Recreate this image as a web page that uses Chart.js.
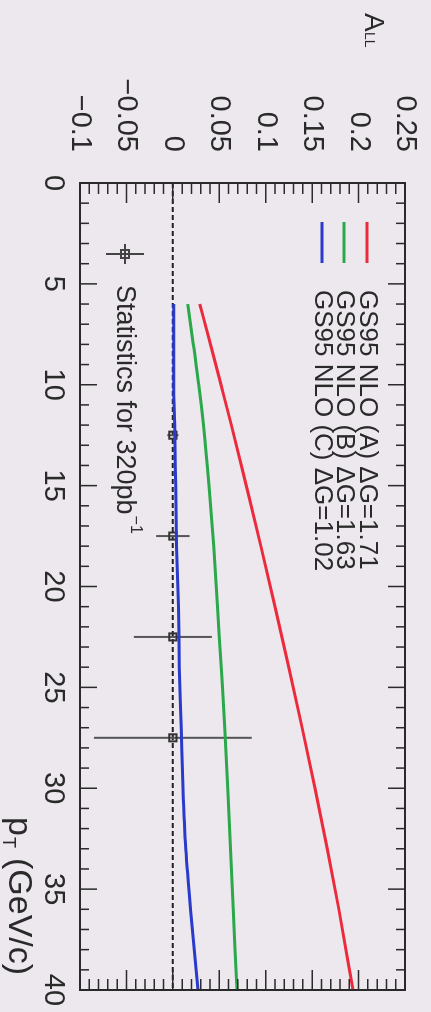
<!DOCTYPE html>
<html>
<head>
<meta charset="utf-8">
<script src="https://cdn.jsdelivr.net/npm/chart.js@4.4.1/dist/chart.umd.min.js"></script>
<style>
html, body { margin: 0; padding: 0; background: #ece8ee; overflow: hidden; }
/* chart is drawn landscape, then turned a quarter clockwise like the scan */
#wrap { position: absolute; left: 0; top: 0; width: 1012px; height: 431px;
        transform-origin: 0 0; transform: translateX(431px) rotate(90deg); }
</style>
</head>
<body>
<div id="wrap"><canvas id="c" width="1012" height="431"></canvas></div>
<script>
// GS95 NLO predictions, A_LL vs pT
const PT_CURVE = [6, 8, 10, 12, 15, 18, 21, 24, 27, 30, 33, 36, 40];
const ALL_A = [0.029, 0.0405, 0.0518, 0.063, 0.079, 0.0948, 0.110, 0.1248, 0.1392, 0.153, 0.1662, 0.1788, 0.194];
const ALL_B = [0.016, 0.022, 0.028, 0.033, 0.039, 0.044, 0.048, 0.052, 0.056, 0.059, 0.062, 0.065, 0.069];
const ALL_C = [0.001, 0.001, 0.001, 0.002, 0.003, 0.004, 0.006, 0.007, 0.009, 0.011, 0.014, 0.019, 0.027];

// projected statistics for 320 pb^-1
const PT_STAT = [12.5, 17.5, 22.5, 27.5];
const ALL_STAT = [0, 0, 0, 0];
const ERR_STAT = [0.006, 0.018, 0.042, 0.085];

const LABELS = ['GS95 NLO (A) \u0394G=1.71', 'GS95 NLO (B) \u0394G=1.63', 'GS95 NLO (C) \u0394G=1.02'];
const COLORS = ['#ec2a3c', '#2aa84a', '#2a3acb'];

const FONT = '"Liberation Sans", Arial, sans-serif';
const INK = '#2a2a2a';

const toXY = (xs, ys) => xs.map((x, i) => ({ x, y: ys[i] }));

function fmtTick(v) {
    const r = Math.round(v * 100) / 100;
    if (r === 0) return '0';
    return r < 0 ? '\u2212' + String(-r) : String(r);
}

const frame = {
    id: 'frame',
    beforeDraw(chart) {
        const ctx = chart.ctx;
        ctx.save();
        ctx.fillStyle = '#ece8ee';
        ctx.fillRect(0, 0, chart.width, chart.height);
        ctx.restore();
    },
    beforeDatasetsDraw(chart) {
        const { ctx, chartArea: a, scales: { x, y } } = chart;
        const y0 = y.getPixelForValue(0);
        ctx.save();
        ctx.strokeStyle = '#222';
        ctx.lineWidth = 2;
        ctx.setLineDash([5, 3]);
        ctx.beginPath();
        ctx.moveTo(a.left, y0);
        ctx.lineTo(a.right, y0);
        ctx.stroke();
        ctx.restore();

        // error bars on the statistics points
        ctx.save();
        ctx.strokeStyle = '#555';
        ctx.lineWidth = 2;
        PT_STAT.forEach((pt, i) => {
            const px = x.getPixelForValue(pt);
            ctx.beginPath();
            ctx.moveTo(px, y.getPixelForValue(ALL_STAT[i] - ERR_STAT[i]));
            ctx.lineTo(px, y.getPixelForValue(ALL_STAT[i] + ERR_STAT[i]));
            ctx.stroke();
        });
        ctx.restore();
    },
    afterDraw(chart) {
        const { ctx, chartArea: a, scales: { x, y } } = chart;
        ctx.save();
        ctx.strokeStyle = INK;
        ctx.lineWidth = 2;
        ctx.strokeRect(a.left, a.top, a.right - a.left, a.bottom - a.top);

        // inward ticks, ROOT style
        ctx.lineWidth = 1.5;
        for (let v = 0; v <= 40; v++) {
            const px = x.getPixelForValue(v);
            const len = v % 5 === 0 ? 17 : 9;
            ctx.beginPath();
            ctx.moveTo(px, a.bottom); ctx.lineTo(px, a.bottom - len);
            ctx.moveTo(px, a.top); ctx.lineTo(px, a.top + len);
            ctx.stroke();
        }
        for (let k = -10; k <= 25; k++) {
            const py = y.getPixelForValue(k / 100);
            const len = k % 5 === 0 ? 20 : 11;
            ctx.beginPath();
            ctx.moveTo(a.left, py); ctx.lineTo(a.left + len, py);
            ctx.moveTo(a.right, py); ctx.lineTo(a.right - len, py);
            ctx.stroke();
        }

        // legend
        ctx.fillStyle = INK;
        ctx.textBaseline = 'middle';
        ctx.font = '26px ' + FONT;
        const rows = [64, 87, 109];
        LABELS.forEach((t, i) => {
            ctx.strokeStyle = COLORS[i];
            ctx.lineWidth = 3;
            ctx.beginPath();
            ctx.moveTo(222, rows[i]); ctx.lineTo(263, rows[i]);
            ctx.stroke();
            ctx.fillText(t, 290, rows[i]);
        });

        // statistics legend entry
        ctx.strokeStyle = '#444';
        ctx.lineWidth = 2;
        ctx.beginPath();
        ctx.moveTo(254, 287); ctx.lineTo(254, 325);
        ctx.moveTo(244, 306); ctx.lineTo(264, 306);
        ctx.stroke();
        ctx.strokeRect(250, 302, 8, 8);
        ctx.font = '27px ' + FONT;
        ctx.fillText('Statistics for 320pb', 285, 307);
        const w = ctx.measureText('Statistics for 320pb').width;
        ctx.font = '16px ' + FONT;
        ctx.fillText('\u22121', 285 + w + 1, 296);

        // axis titles
        ctx.textBaseline = 'alphabetic';
        ctx.font = '28px ' + FONT;
        ctx.fillText('A', 13, 66);
        ctx.font = '14px ' + FONT;
        ctx.fillText('LL', 32, 66);

        ctx.font = '34px ' + FONT;
        ctx.fillText('p', 817, 422);
        ctx.font = '18px ' + FONT;
        ctx.fillText('T', 837, 428);
        ctx.font = '34px ' + FONT;
        ctx.fillText('(GeV/c)', 858, 422);
        ctx.restore();
    }
};

const curve = (i, ys) => ({
    label: LABELS[i],
    data: toXY(PT_CURVE, ys),
    borderColor: COLORS[i],
    borderWidth: 3,
    pointRadius: 0,
    cubicInterpolationMode: 'monotone',
    fill: false,
});

new Chart(document.getElementById('c'), {
    type: 'line',
    data: {
        datasets: [
            curve(0, ALL_A),
            curve(1, ALL_B),
            curve(2, ALL_C),
            {
                label: 'Statistics for 320pb-1',
                data: toXY(PT_STAT, ALL_STAT),
                showLine: false,
                pointStyle: 'rect',
                pointRadius: 5,
                borderColor: '#333',
                borderWidth: 2,
                backgroundColor: 'rgba(0,0,0,0)',
            },
        ],
    },
    options: {
        responsive: false,
        animation: false,
        layout: { padding: { left: 0, top: 26, right: 22, bottom: 0 } },
        plugins: { legend: { display: false }, tooltip: { enabled: false } },
        scales: {
            x: {
                type: 'linear', min: 0, max: 40,
                afterFit: (s) => { s.height = 80; s.paddingLeft = 0; s.paddingRight = 0; },
                grid: { display: false, drawTicks: false },
                border: { display: false },
                ticks: { stepSize: 5, autoSkip: false, maxRotation: 0, padding: 10,
                         color: INK, font: { family: FONT, size: 29 } },
            },
            y: {
                type: 'linear', min: -0.1, max: 0.25,
                afterFit: (s) => { s.width = 183; s.paddingTop = 0; s.paddingBottom = 0; },
                grid: { display: false, drawTicks: false },
                border: { display: false },
                ticks: { stepSize: 0.05, padding: 31, color: INK,
                         font: { family: FONT, size: 29 }, callback: fmtTick },
            },
        },
    },
    plugins: [frame],
});
</script>
</body>
</html>
